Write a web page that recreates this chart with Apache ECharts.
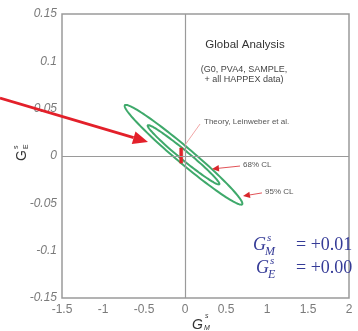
<!DOCTYPE html>
<html><head><meta charset="utf-8">
<script src="https://cdn.jsdelivr.net/npm/echarts@6/dist/echarts.min.js"></script>
<style>html,body{margin:0;padding:0;background:#fff}#c{width:358px;height:331px}</style>
</head><body><div id="c"></div><script>
// ---- axis ranges ----
const xMin = -1.5, xMax = 2, xStep = 0.5;
const yMin = -0.15, yMax = 0.15, yStep = 0.05;

// ---- confidence ellipses (data coords): center, end of major axis, end of minor axis ----
const ellipseNames = ['95% CL', '68% CL'];
const ellipseCenter = [[-0.018, 0.0013], [-0.018, 0.0013]];
const ellipseMajorTip = [[0.697, -0.0510], [0.418, -0.0298]];
const ellipseMinorTip = [[0.045, 0.0077], [0.017, 0.0049]];

// ---- theory point (Leinweber et al.) ----
const theoryGM = [-0.046];
const theoryGMerr = [0.019];
const theoryGE = [0.0005];
const theoryGEerr = [0.008];

// ---- annotation anchors (data coords) ----
const clArrowTip = [[0.707, -0.0423], [0.329, -0.0137]];
const clLabelAt = [[0.939, -0.039], [0.671, -0.0106]];
const theoryLineFrom = [0.0, 0.0116];
const theoryLineTo = [0.183, 0.0338];
const bigArrowFrom = [-2.256, 0.0613];
const bigArrowTo = [-0.451, 0.0148];

const GREEN = '#3fa96b';
const RED = '#e3202a';

const ellipseData = ellipseNames.map((n, i) => ({
  name: n,
  value: [ellipseCenter[i][0], ellipseCenter[i][1], ellipseMajorTip[i][0], ellipseMajorTip[i][1], ellipseMinorTip[i][0], ellipseMinorTip[i][1]]
}));
const theoryData = theoryGM.map((m, i) => [m, theoryGE[i], theoryGMerr[i], theoryGEerr[i]]);

const chart = echarts.init(document.getElementById('c'), null, {renderer: 'canvas'});
const option = {
  animation: false,
  backgroundColor: '#fff',
  grid: {left: 62, right: 9, top: 14, bottom: 33, show: true, borderColor: '#9a9a9a', borderWidth: 1.5},
  xAxis: {
    type: 'value', min: xMin, max: xMax, interval: xStep,
    axisLine: {show: false}, axisTick: {show: false}, splitLine: {show: false},
    axisLabel: {color: '#7a7a7a', fontSize: 12, fontFamily: 'Liberation Sans', margin: 6}
  },
  yAxis: {
    type: 'value', min: yMin, max: yMax, interval: yStep,
    axisLine: {show: false}, axisTick: {show: false}, splitLine: {show: false},
    axisLabel: {color: '#7a7a7a', fontSize: 12, fontStyle: 'italic', fontFamily: 'Liberation Sans', margin: 5}
  },
  series: [
    {
      type: 'line', data: [], z: 1, silent: true,
      markLine: {
        silent: true, symbol: 'none', animation: false,
        label: {show: false},
        lineStyle: {color: '#9a9a9a', width: 1.2, type: 'solid'},
        data: [{xAxis: 0}, {yAxis: 0}]
      }
    },
    {
      type: 'custom', z: 3, silent: true,
      encode: {x: 0, y: 1},
      data: ellipseData,
      renderItem: function (params, api) {
        const c = api.coord([api.value(0), api.value(1)]);
        const a = api.coord([api.value(2), api.value(3)]);
        const b = api.coord([api.value(4), api.value(5)]);
        const ux = a[0] - c[0], uy = a[1] - c[1], vx = b[0] - c[0], vy = b[1] - c[1];
        const pts = [];
        const N = 120;
        for (let i = 0; i < N; i++) {
          const t = 2 * Math.PI * i / N;
          pts.push([c[0] + ux * Math.cos(t) + vx * Math.sin(t), c[1] + uy * Math.cos(t) + vy * Math.sin(t)]);
        }
        return {type: 'polygon', shape: {points: pts}, style: {fill: 'none', stroke: GREEN, lineWidth: 2}};
      }
    },
    {
      type: 'custom', z: 4, silent: true,
      encode: {x: 0, y: 1},
      data: theoryData,
      renderItem: function (params, api) {
        const m = api.value(0), e = api.value(1), dm = api.value(2), de = api.value(3);
        const p1 = api.coord([m - dm, e + de]);
        const p2 = api.coord([m + dm, e - de]);
        return {type: 'rect', shape: {x: p1[0], y: p1[1], width: p2[0] - p1[0], height: p2[1] - p1[1]},
          style: {fill: RED, stroke: '#c0392b', lineWidth: 0.5}};
      }
    }
  ]
};
chart.setOption(option);

function px(p) { return chart.convertToPixel({gridIndex: 0}, p); }
function arrow(fromD, toD, L, W, color, lw) {
  const f = px(fromD), t = px(toD);
  const dx = t[0] - f[0], dy = t[1] - f[1];
  const len = Math.hypot(dx, dy);
  const ux = dx / len, uy = dy / len;
  const bx = t[0] - ux * L, by = t[1] - uy * L;
  const nx = -uy, ny = ux;
  return [
    {type: 'line', shape: {x1: f[0], y1: f[1], x2: bx, y2: by}, style: {stroke: color, lineWidth: lw}, z: 20},
    {type: 'polygon', shape: {points: [[t[0], t[1]], [bx + nx * W, by + ny * W], [bx - nx * W, by - ny * W]]}, style: {fill: color}, z: 20}
  ];
}

const g = [];
// big red arrow
g.push(...arrow(bigArrowFrom, bigArrowTo, 15, 6.5, RED, 2.8));
// CL arrows and labels
for (let i = 0; i < ellipseNames.length; i++) {
  g.push(...arrow(clLabelAt[i], clArrowTip[i], 7, 3.2, '#d9262c', 0.8));
  const lp = px(clLabelAt[i]);
  g.push({type: 'text', z: 20, style: {text: ellipseNames[i], x: lp[0] + 3, y: lp[1] - 1, font: '8px "Liberation Sans"', fill: '#555', textVerticalAlign: 'middle'}});
}
// theory leader line + label
const tf = px(theoryLineFrom), tt = px(theoryLineTo);
g.push({type: 'line', z: 20, shape: {x1: tf[0], y1: tf[1], x2: tt[0], y2: tt[1]}, style: {stroke: '#f2a7a7', lineWidth: 1}});
g.push({type: 'text', z: 20, style: {text: 'Theory, Leinweber et al.', x: tt[0] + 4, y: tt[1] - 2, font: '8px "Liberation Sans"', fill: '#555', textVerticalAlign: 'middle'}});

// titles / notes
g.push({type: 'text', z: 20, style: {text: 'Global Analysis', x: 245, y: 45, font: '11.5px "Liberation Sans"', fill: '#333', textAlign: 'center', textVerticalAlign: 'middle'}});
g.push({type: 'text', z: 20, style: {text: '(G0, PVA4, SAMPLE,', x: 244, y: 70, font: '9px "Liberation Sans"', fill: '#444', textAlign: 'center', textVerticalAlign: 'middle'}});
g.push({type: 'text', z: 20, style: {text: '+ all HAPPEX data)', x: 244, y: 80, font: '9px "Liberation Sans"', fill: '#444', textAlign: 'center', textVerticalAlign: 'middle'}});

// blue formulas
const BLUE = '#353b97';
function formula(x, y, sub, rest) {
  return [
    {type: 'text', z: 20, style: {text: 'G', x: x, y: y, font: 'italic 18px "Liberation Serif"', fill: BLUE, textVerticalAlign: 'middle'}},
    {type: 'text', z: 20, style: {text: 's', x: x + 14, y: y - 7, font: 'italic 11px "Liberation Serif"', fill: BLUE, textVerticalAlign: 'middle'}},
    {type: 'text', z: 20, style: {text: sub, x: x + 12, y: y + 7, font: 'italic 12px "Liberation Serif"', fill: BLUE, textVerticalAlign: 'middle'}},
    {type: 'text', z: 20, style: {text: rest, x: 296, y: y, font: '18px "Liberation Serif"', fill: BLUE, textVerticalAlign: 'middle'}}
  ];
}
g.push(...formula(253, 245, 'M', '= +0.01'));
g.push(...formula(256, 268, 'E', '= +0.00'));

// axis titles
g.push({type: 'text', z: 20, style: {text: 'G', x: 192, y: 325, font: 'italic 14px "Liberation Sans"', fill: '#333', textVerticalAlign: 'middle'}});
g.push({type: 'text', z: 20, style: {text: 's', x: 205, y: 316, font: 'italic 7px "Liberation Sans"', fill: '#333', textVerticalAlign: 'middle'}});
g.push({type: 'text', z: 20, style: {text: 'M', x: 204, y: 328, font: 'italic 7px "Liberation Sans"', fill: '#333', textVerticalAlign: 'middle'}});
g.push({
  type: 'group', x: 22, y: 161, rotation: Math.PI / 2, z: 20,
  children: [
    {type: 'text', style: {text: 'G', x: 0, y: 0, font: '14px "Liberation Sans"', fill: '#333', textVerticalAlign: 'middle'}},
    {type: 'text', style: {text: 's', x: 12, y: -6, font: '7px "Liberation Sans"', fill: '#333', textVerticalAlign: 'middle'}},
    {type: 'text', style: {text: 'E', x: 12, y: 4, font: '7px "Liberation Sans"', fill: '#333', textVerticalAlign: 'middle'}}
  ]
});
chart.setOption({graphic: g});
</script></body></html>
